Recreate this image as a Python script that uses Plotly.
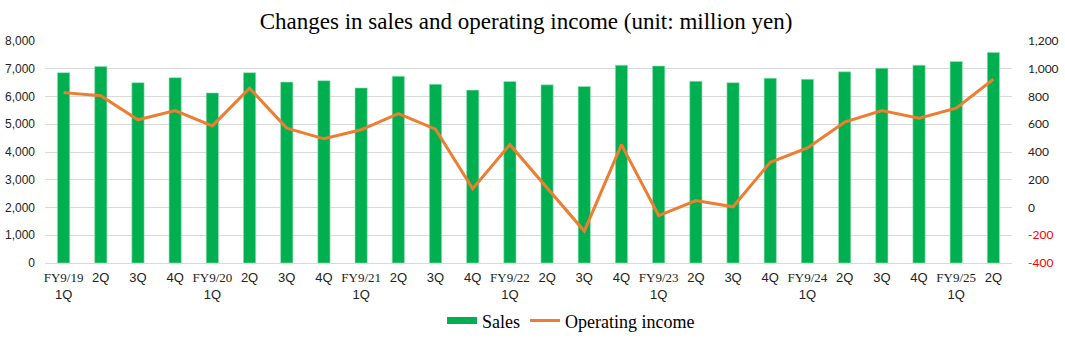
import plotly.graph_objects as go

fiscal_years = ["FY9/19", "FY9/20", "FY9/21", "FY9/22", "FY9/23", "FY9/24", "FY9/25"]
quarters = ["1Q", "2Q", "3Q", "4Q"]
n_periods = 26

sales = [6860, 7080, 6500, 6680, 6130, 6860, 6520, 6570, 6310, 6730, 6440, 6230, 6540,
         6420, 6360, 7130, 7100, 6550, 6500, 6660, 6620, 6890, 7020, 7130, 7260, 7590]
operating_income = [828, 806, 632, 699, 588, 860, 572, 495, 560, 677, 565, 135, 453,
                    145, -170, 453, -58, 50, 5, 326, 429, 615, 699, 644, 716, 924]

right_ticks = [-400, -200, 0, 200, 400, 600, 800, 1000, 1200]

tick_labels = []
for i in range(n_periods):
    fy = fiscal_years[i // 4]
    q = quarters[i % 4]
    if q == "1Q":
        tick_labels.append(f'<span style="font-family:Liberation Serif">{fy}</span><br>{q}')
    else:
        tick_labels.append(q)

x = list(range(n_periods))

right_text = [
    (f'<span style="color:#ff0000">{v:,}</span>' if v < 0 else f"{v:,}")
    for v in right_ticks
]

fig = go.Figure()
fig.add_trace(go.Bar(
    x=x, y=sales, name="Sales", showlegend=False, legendgroup="sales",
    marker=dict(color="#00b050", line=dict(color="#9fe0b8", width=0.6)),
    yaxis="y",
))
# legend entry for Sales drawn as a thick bar-coloured stroke
fig.add_trace(go.Scatter(
    x=[None], y=[None], name="Sales", mode="lines", legendgroup="sales",
    line=dict(color="#00b050", width=7), yaxis="y",
))
fig.add_trace(go.Scatter(
    x=x, y=operating_income, name="Operating income", mode="lines",
    line=dict(color="#ed7d31", width=3),
    yaxis="y2",
))

fig.update_layout(
    width=1065, height=342,
    margin=dict(l=45, r=53, t=41, b=79),
    paper_bgcolor="white", plot_bgcolor="white",
    title=dict(
        text="Changes in sales and operating income (unit: million yen)",
        x=0.494, xanchor="center", y=0.94, yanchor="middle",
        font=dict(family="Liberation Serif", size=23, color="#000000"),
    ),
    bargap=0.67,
    showlegend=True,
    legend=dict(
        orientation="h", x=0.544, xanchor="center",
        yref="container", y=0.062, yanchor="middle",
        font=dict(family="Liberation Serif", size=18, color="#000000"),
        traceorder="normal", itemwidth=30,
    ),
    xaxis=dict(
        tickmode="array", tickvals=x, ticktext=tick_labels,
        range=[-0.5, n_periods - 0.5], automargin=False,
        showgrid=False, showline=True, linecolor="#d9d9d9", linewidth=1,
        ticks="", ticklabelstandoff=2,
        tickfont=dict(family="Liberation Sans", size=13, color="#222222"),
        tickangle=0,
    ),
    yaxis=dict(
        range=[0, 8000], dtick=1000, tickformat=",", automargin=False,
        showgrid=True, gridcolor="#d9d9d9", gridwidth=1,
        zeroline=False, showline=False,
        ticks="", ticklabelstandoff=9,
        tickfont=dict(family="Liberation Sans", size=12, color="#222222"),
    ),
    yaxis2=dict(
        overlaying="y", side="right", automargin=False,
        range=[-400, 1200], tickmode="array", tickvals=right_ticks, ticktext=right_text,
        showgrid=False, zeroline=False, showline=False,
        ticks="", ticklabelstandoff=15,
        tickfont=dict(family="Lato", size=12, color="#222222"),
    ),
)

fig.write_html("out.html")
